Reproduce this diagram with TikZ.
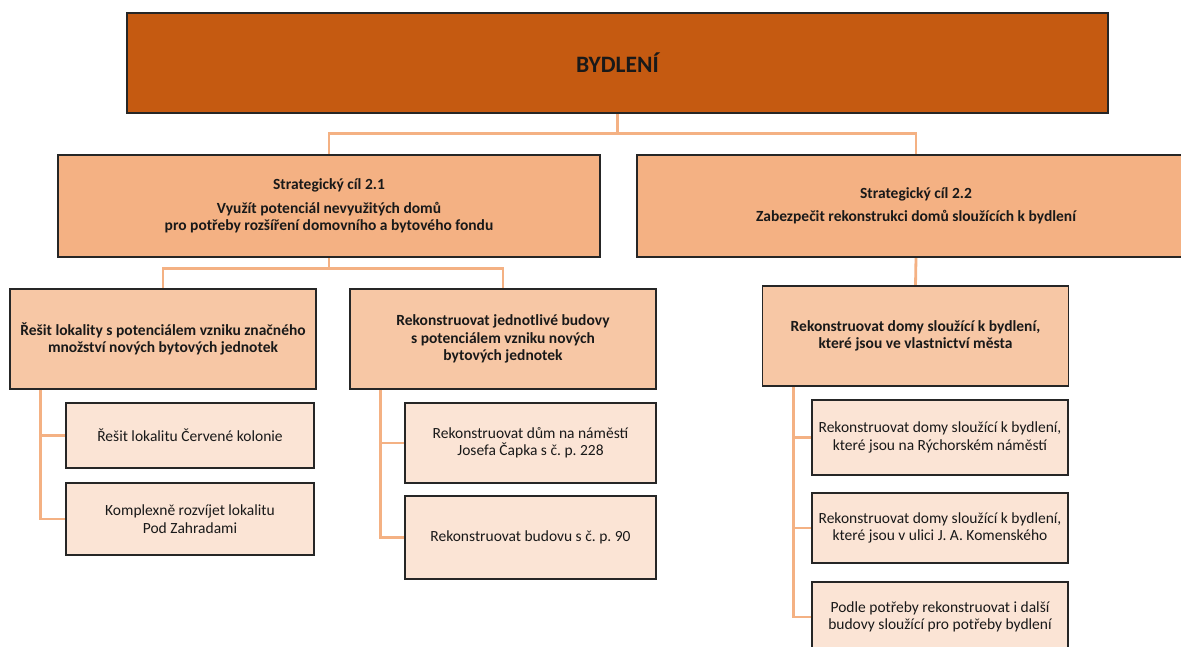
\documentclass[tikz,border=0pt]{standalone}
\usepackage{fontspec}
\setmainfont{Carlito}
\frenchspacing
\usetikzlibrary{backgrounds}

\definecolor{topfill}{HTML}{C55A11}
\definecolor{goalfill}{HTML}{F4B183}
\definecolor{subfill}{HTML}{F7C7A5}
\definecolor{leaffill}{HTML}{FBE4D5}
\definecolor{linkcol}{HTML}{F4B183}
\definecolor{edgecol}{HTML}{262626}

\tikzset{
  box/.style={draw=edgecol, line width=1.3pt, align=center, inner sep=0pt,
    text=black!90, font=\fontsize{15.5}{17.5}\selectfont},
  headbox/.style={box, fill=topfill, font=\fontsize{23.5}{27}\selectfont\bfseries},
  goalbox/.style={box, fill=goalfill, minimum height=102pt,
    font=\fontsize{15.5}{17.5}\selectfont\bfseries},
  subbox/.style={box, fill=subfill, minimum width=306pt, minimum height=100pt,
    font=\fontsize{15.5}{17.5}\selectfont\bfseries},
  leafbox/.style={box, fill=leaffill},
  link/.style={draw=linkcol, line width=2.8pt}
}

\begin{document}
\begin{tikzpicture}[x=1pt,y=-1pt]
\useasboundingbox (0,0) rectangle (1181,646);

% top
\node[headbox, minimum width=981pt, minimum height=100pt] (bydleni) at (617.5,63) {BYDLENÍ};

% strategic goals
\node[goalbox, minimum width=542pt] (sc1) at (329,206) {Strategický cíl 2.1\\[6.5pt]
  Využít potenciál nevyužitých domů\\pro potřeby rozšíření domovního a bytového fondu};
\node[goalbox, minimum width=558pt] (sc2) at (916,206) {Strategický cíl 2.2\\[5.5pt]
  Zabezpečit rekonstrukci domů sloužících k bydlení};

% measures
\node[subbox] (lok) at (163,339) {Řešit lokality s potenciálem vzniku značného\\množství nových bytových jednotek};
\node[subbox] (bud) at (503,339) {Rekonstruovat jednotlivé budovy\\s potenciálem vzniku nových\\bytových jednotek};
\node[subbox] (domy) at (915.5,336) {Rekonstruovat domy sloužící k bydlení,\\které jsou ve vlastnictví města};

% activities
\node[leafbox, minimum width=248pt, minimum height=65pt] (kolonie) at (190,435.5) {Řešit lokalitu Červené kolonie};
\node[leafbox, minimum width=248pt, minimum height=72pt] (zahrady) at (190,519) {Komplexně rozvíjet lokalitu\\Pod Zahradami};
\node[leafbox, minimum width=251pt, minimum height=80pt] (capek) at (530.5,443) {Rekonstruovat dům na náměstí\\Josefa Čapka s č. p. 228};
\node[leafbox, minimum width=251pt, minimum height=83pt] (cp90) at (530.5,537.5) {Rekonstruovat budovu s č. p. 90};
\node[leafbox, minimum width=256pt, minimum height=75pt] (rychor) at (940,437.5) {Rekonstruovat domy sloužící k bydlení,\\které jsou na Rýchorském náměstí};
\node[leafbox, minimum width=256pt, minimum height=70pt] (komen) at (940,528) {Rekonstruovat domy sloužící k bydlení,\\které jsou v ulici J. A. Komenského};
\node[leafbox, minimum width=256pt, minimum height=70pt] (dalsi) at (940,617) {Podle potřeby rekonstruovat i další\\budovy sloužící pro potřeby bydlení};

\begin{scope}[on background layer]
\draw[link] (bydleni.south) -- ++(0,20) -| (sc1.north);
\draw[link] (bydleni.south) -- ++(0,20) -| (sc2.north);
\draw[link] (sc1.south) -- ++(0,11) -| (lok.north);
\draw[link] (sc1.south) -- ++(0,11) -| (bud.north);
\draw[link] (sc2.south) -- (domy.north);
\draw[link] ([xshift=31pt]lok.south west) |- (kolonie.west);
\draw[link] ([xshift=31pt]lok.south west) |- (zahrady.west);
\draw[link] ([xshift=31pt]bud.south west) |- (capek.west);
\draw[link] ([xshift=31pt]bud.south west) |- (cp90.west);
\draw[link] ([xshift=32pt]domy.south west) |- (rychor.west);
\draw[link] ([xshift=32pt]domy.south west) |- (komen.west);
\draw[link] ([xshift=32pt]domy.south west) |- (dalsi.west);
\end{scope}

\end{tikzpicture}
\end{document}
